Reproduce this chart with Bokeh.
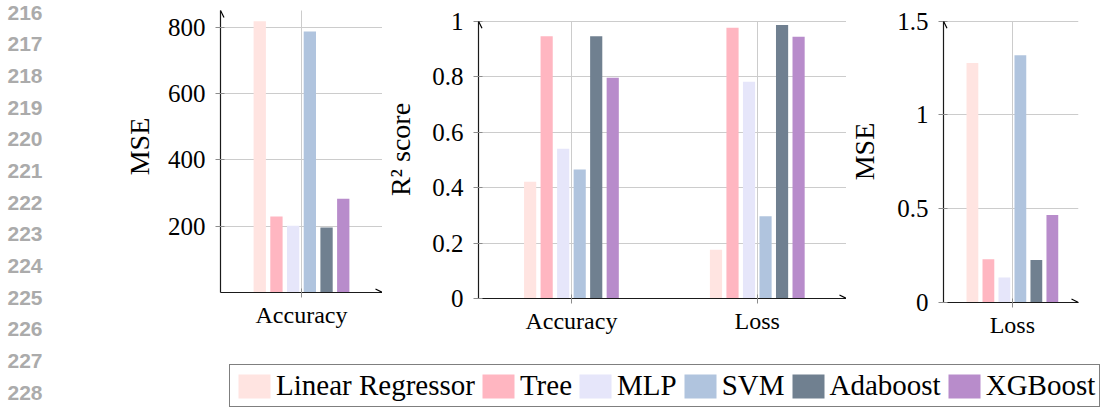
from bokeh.plotting import figure
from bokeh.models import (Range1d, FixedTicker, NumeralTickFormatter, Arrow, OpenHead,
                          Legend, LegendItem, Grid)
from bokeh.layouts import row, column
from bokeh.embed import file_html
from bokeh.resources import INLINE
from bokeh.core.properties import value

# ---------------- data ----------------
models = ["Linear Regressor", "Tree", "MLP", "SVM", "Adaboost", "XGBoost"]
colors = ["#ffe4e1", "#ffb6c1", "#e6e6fa", "#b0c4de", "#708090", "#b88ccb"]

mse_acc_categories = ["Accuracy"]
mse_accuracy = [818, 229, 201, 787, 196, 283]
mse_acc_ticks = [200, 400, 600, 800]

r2_categories = ["Accuracy", "Loss"]
r2_accuracy = [0.421, 0.946, 0.540, 0.465, 0.946, 0.796]
r2_loss = [0.176, 0.976, 0.782, 0.297, 0.986, 0.944]
r2_ticks = [0, 0.2, 0.4, 0.6, 0.8, 1]

mse_loss_categories = ["Loss"]
mse_loss = [1.277, 0.231, 0.133, 1.319, 0.227, 0.467]
mse_loss_ticks = [0, 0.5, 1, 1.5]

line_numbers = list(range(216, 229))

# ---------------- style ----------------
SERIF = "Liberation Serif"
BAR_STEP_PX = 16.7
BAR_W_PX = 12.3
GRID = "#cccccc"
PANEL_H = 350


def make_panel(width, borders, x_range, y_range, axis_top, categories, series, yticks,
               ylabel, label_standoff=10):
    left, right, bottom = borders
    p = figure(width=width, height=PANEL_H, min_border_left=left, min_border_right=right,
               min_border_top=0, min_border_bottom=bottom,
               x_range=Range1d(*x_range), y_range=Range1d(*y_range),
               output_backend="svg", toolbar_location=None, outline_line_color=None)
    frame_w = width - left - right
    ppu = frame_w / (x_range[1] - x_range[0])
    step = BAR_STEP_PX / ppu
    bw = BAR_W_PX / ppu
    cat_pos = list(range(len(categories)))
    for i, (name, color) in enumerate(zip(models, colors)):
        tops = [s[i] for s in series]
        xs = [c + (i - 2.5) * step for c in cat_pos]
        p.vbar(x=xs, top=tops, bottom=0, width=bw, fill_color=color, line_color=None)

    p.xaxis.ticker = FixedTicker(ticks=cat_pos)
    p.xgrid.ticker = FixedTicker(ticks=cat_pos)
    p.xaxis.major_label_overrides = {c: n for c, n in zip(cat_pos, categories)}
    p.yaxis.ticker = FixedTicker(ticks=yticks)
    p.ygrid.ticker = FixedTicker(ticks=yticks)
    p.yaxis.formatter = NumeralTickFormatter(format="0.[0]")
    p.yaxis.bounds = (0, axis_top)
    p.yaxis.axis_label = ylabel
    for ax in p.axis:
        ax.axis_line_color = "#1a1a1a"
        ax.axis_line_width = 1.2
        ax.major_tick_line_color = "#8c8c8c"
        ax.major_tick_in = 4
        ax.major_tick_out = 5
        ax.minor_tick_line_color = None
        ax.major_label_text_font = SERIF
        ax.major_label_text_color = "black"
        ax.axis_label_text_font = SERIF
        ax.axis_label_text_font_style = "normal"
        ax.axis_label_text_color = "black"
    p.xaxis.major_label_text_font_size = "24px"
    p.xaxis.major_label_standoff = 4
    p.yaxis.major_label_text_font_size = "25px"
    p.yaxis.major_label_standoff = 10
    p.yaxis.axis_label_text_font_size = "28px"
    p.yaxis.axis_label_standoff = label_standoff
    p.grid.grid_line_color = GRID
    p.grid.grid_line_width = 1
    if "cross_bounds" in Grid.properties():
        p.xgrid.cross_bounds = (0, axis_top)

    p.add_layout(Arrow(end=OpenHead(size=7, line_width=1.2, line_color="black"),
                       x_start=x_range[0], y_start=0, x_end=x_range[1], y_end=0,
                       line_color=None))
    p.add_layout(Arrow(end=OpenHead(size=7, line_width=1.2, line_color="black"),
                       x_start=x_range[0], y_start=0, x_end=x_range[0], y_end=axis_top,
                       line_color=None))
    return p


p1 = make_panel(322, (160, 0, 58), (-0.5, 0.5), (0, 880.5), 850.3,
                mse_acc_categories, [mse_accuracy], mse_acc_ticks, "MSE")
p2 = make_panel(464, (92, 0, 52), (-0.5, 1.48), (0, 1.0747), 1,
                r2_categories, [r2_accuracy, r2_loss], r2_ticks, "R² score",
                label_standoff=13)
p3 = make_panel(255, (91, 23, 48), (-0.5, 0.48), (0, 1.6104), 1.5,
                mse_loss_categories, [mse_loss], mse_loss_ticks, "MSE", label_standoff=14)

# ---------------- line numbers ----------------
LN_H = 407
ln = figure(width=60, height=LN_H, x_axis_type=None, y_axis_type=None, min_border=0,
            outline_line_color=None, x_range=Range1d(0, 60), y_range=Range1d(LN_H, 0),
            output_backend="svg", toolbar_location=None)
n_ln = len(line_numbers)
ln_first, ln_last = 12.0, 392.0
ln.text(x=[7] * n_ln,
        y=[ln_first + i * (ln_last - ln_first) / (n_ln - 1) for i in range(n_ln)],
        text=[str(n) for n in line_numbers], text_font=value("Liberation Sans"),
        text_font_style="bold", text_font_size="21px", text_color="#ababab",
        text_baseline="middle", text_align="left")

# ---------------- legend ----------------
lf = figure(width=1041, height=LN_H - PANEL_H, x_axis_type=None, y_axis_type=None,
            min_border=0, outline_line_color=None, x_range=Range1d(0, 1),
            y_range=Range1d(0, 1), output_backend="svg", toolbar_location=None)
items = []
for name, color, v in zip(models, colors, mse_accuracy):
    r = lf.vbar(x=[0], top=[v], width=0.1, fill_color=color, line_color=None, visible=False)
    items.append(LegendItem(label=name, renderers=[r]))
legend = Legend(items=items, orientation="horizontal", location=(169, 0),
                glyph_width=40, glyph_height=30, label_standoff=2, spacing=3,
                padding=4, margin=0, border_line_color="black", border_line_width=1,
                label_text_font=SERIF, label_text_font_size="29px",
                label_text_color="black", background_fill_alpha=1)
lf.add_layout(legend)

layout = row(ln, column(row(column(p1), column(p2), column(p3)), lf))

open("out.html", "w").write(file_html(layout, INLINE))
